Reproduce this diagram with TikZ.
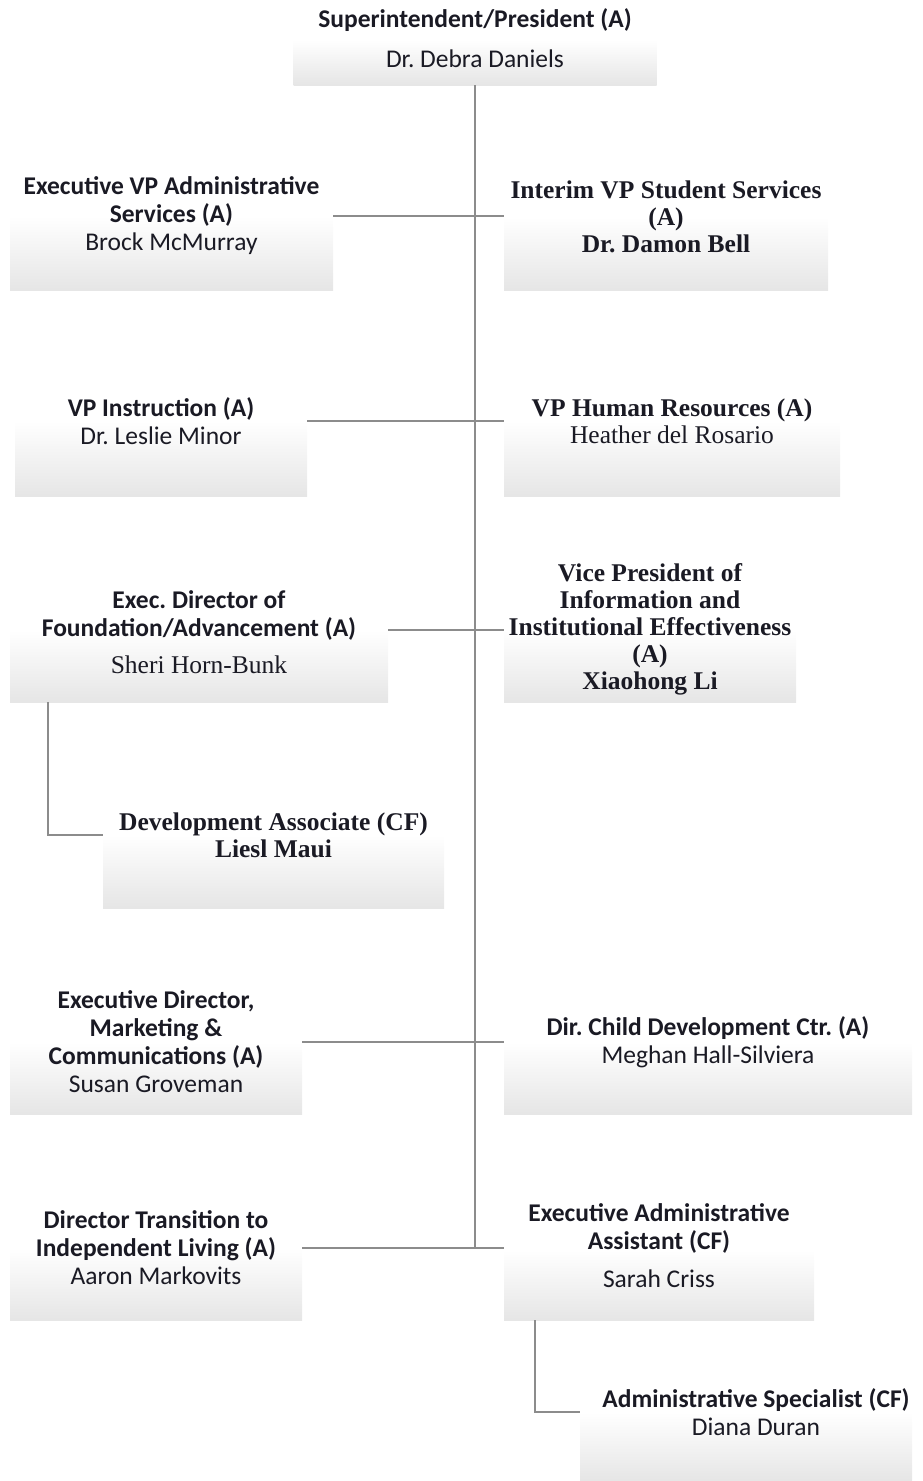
\documentclass[tikz,border=0pt]{standalone}
\usepackage{fontspec}
\setmainfont{Liberation Serif}
\newfontfamily\carlito{Carlito}
\definecolor{txtcol}{HTML}{1A1A24}
\definecolor{linkcol}{HTML}{8C8C8C}
\frenchspacing
\begin{document}
\begin{tikzpicture}[x=1pt,y=-1pt,
  box/.style={rectangle, inner sep=0pt, top color=white, bottom color=black!10, draw=none},
  sanstext/.style={font=\carlito\fontsize{25.5}{28}\selectfont, text=txtcol, align=center},
  seriftext/.style={font=\fontsize{25.5}{27}\selectfont, text=txtcol, align=center},
  link/.style={draw=linkcol, line width=1.6pt}]
\useasboundingbox (0,0) rectangle (922,1481);
\node[box, minimum width=363, minimum height=45] (pres) at (475,62.5) {};
\node[box, minimum width=323, minimum height=74] (evpas) at (171.5,253) {};
\node[box, minimum width=324, minimum height=73] (ivpss) at (666,253.5) {};
\node[box, minimum width=292, minimum height=75] (vpi) at (161,458.5) {};
\node[box, minimum width=336, minimum height=75] (vphr) at (672,458.5) {};
\node[box, minimum width=378, minimum height=72] (edfa) at (199,666) {};
\node[box, minimum width=292, minimum height=72] (vpie) at (650,666) {};
\node[box, minimum width=341, minimum height=73] (devas) at (273.5,871.5) {};
\node[box, minimum width=292, minimum height=72] (edmc) at (156,1078) {};
\node[box, minimum width=408, minimum height=72] (dcdc) at (708,1078) {};
\node[box, minimum width=292, minimum height=72] (dtil) at (156,1284) {};
\node[box, minimum width=310, minimum height=70] (eaa) at (659,1285) {};
\node[box, minimum width=332, minimum height=69] (adsp) at (746,1446.5) {};
\draw[link] (pres.south) -- (pres.south |- dtil.north);
\draw[link] (evpas.north east) -- (evpas.north east -| ivpss.west);
\draw[link] (vpi.north east) -- (vpi.north east -| vphr.west);
\draw[link] (edfa.north east) -- (edfa.north east -| vpie.west);
\draw[link] (edmc.north east) -- (edmc.north east -| dcdc.west);
\draw[link] (dtil.north east) -- (dtil.north east -| eaa.west);
\draw[link] ([xshift=38pt]edfa.south west) |- (devas.north west);
\draw[link] ([xshift=31pt]eaa.south west) |- (adsp.north west);
\node[sanstext] (presT) at ([yshift=2pt]pres.north) {\bfseries Superintendent/President (A)\\[12pt] Dr. Debra Daniels};
\node[sanstext] (evpasT) at (evpas.north) {\bfseries Executive VP Administrative\\\bfseries Services (A)\\Brock McMurray};
\node[seriftext] (ivpssT) at (ivpss.north) {\bfseries Interim VP Student Services\\\bfseries (A)\\\bfseries Dr. Damon Bell};
\node[sanstext] (vpiT) at (vpi.north) {\bfseries VP Instruction (A)\\Dr. Leslie Minor};
\node[seriftext] (vphrT) at (vphr.north) {\bfseries VP Human Resources (A)\\Heather del Rosario};
\node[sanstext] (edfaT) at ([yshift=-2pt]edfa.north) {\bfseries Exec. Director of\\\bfseries Foundation/Advancement (A)\\[9pt]\rmfamily Sheri Horn-Bunk};
\node[seriftext] (vpieT) at (vpie.north) {\bfseries Vice President of\\\bfseries Information and\\\bfseries Institutional Effectiveness\\\bfseries (A)\\\bfseries Xiaohong Li};
\node[seriftext] (devasT) at (devas.north) {\bfseries Development Associate (CF)\\\bfseries Liesl Maui};
\node[sanstext] (edmcT) at (edmc.north) {\bfseries Executive Director,\\\bfseries Marketing \&\\\bfseries Communications (A)\\Susan Groveman};
\node[sanstext] (dcdcT) at (dcdc.north) {\bfseries Dir. Child Development Ctr. (A)\\Meghan Hall-Silviera};
\node[sanstext] (dtilT) at (dtil.north) {\bfseries Director Transition to\\\bfseries Independent Living (A)\\Aaron Markovits};
\node[sanstext] (eaaT) at ([yshift=4pt]eaa.north) {\bfseries Executive Administrative\\\bfseries Assistant (CF)\\[10pt] Sarah Criss};
\node[sanstext] (adspT) at ([xshift=10pt]adsp.north) {\bfseries Administrative Specialist (CF)\\Diana Duran};
\end{tikzpicture}
\end{document}
